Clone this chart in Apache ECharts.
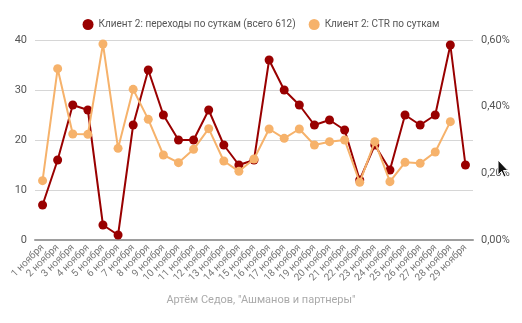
<!DOCTYPE html>
<html>
<head>
<meta charset="utf-8">
<script src="https://cdn.jsdelivr.net/npm/echarts@6/dist/echarts.min.js"></script>
<style>
  html, body { margin: 0; padding: 0; background: #fff; }
  #chart { width: 522px; height: 323px; }
</style>
</head>
<body>
<div id="chart"></div>
<script>
// Days of November
const days = [
  '1 ноября', '2 ноября', '3 ноября', '4 ноября', '5 ноября', '6 ноября', '7 ноября',
  '8 ноября', '9 ноября', '10 ноября', '11 ноября', '12 ноября', '13 ноября', '14 ноября',
  '15 ноября', '16 ноября', '17 ноября', '18 ноября', '19 ноября', '20 ноября', '21 ноября',
  '22 ноября', '23 ноября', '24 ноября', '25 ноября', '26 ноября', '27 ноября', '28 ноября',
  '29 ноября'
];

// Daily clicks (total 612)
const clicks = [7, 16, 27, 26, 3, 1, 23, 34, 25, 20, 20, 26, 19, 15, 16, 36, 30, 27, 23, 24, 22, 12, 19, 14, 25, 23, 25, 39, 15];

// Daily CTR, percent
const ctr = [0.178, 0.514, 0.318, 0.317, 0.588, 0.275, 0.452, 0.362, 0.255, 0.232, 0.272, 0.334, 0.237, 0.206, 0.243,
             0.333, 0.305, 0.333, 0.285, 0.295, 0.300, 0.173, 0.295, 0.175, 0.233, 0.230, 0.264, 0.355, null];

const clicksName = 'Клиент 2: переходы по суткам (всего 612)';
const ctrName = 'Клиент 2: CTR по суткам';

const chart = echarts.init(document.getElementById('chart'));
chart.setOption({
  animation: false,
  textStyle: { fontFamily: 'Roboto, sans-serif' },
  title: {
    text: 'Артём Седов, "Ашманов и партнеры"',
    left: 'center',
    bottom: 12,
    textStyle: { fontSize: 11, fontWeight: 'normal', color: '#aaaaaa' }
  },
  legend: {
    top: 14,
    left: 'center',
    itemGap: 13,
    itemWidth: 11,
    itemHeight: 11,
    icon: 'circle',
    textStyle: { fontSize: 10, color: '#555555' },
    data: [clicksName, ctrName]
  },
  grid: { left: 35, right: 49, top: 40, bottom: 83 },
  xAxis: {
    type: 'category',
    data: days,
    boundaryGap: true,
    axisLine: { lineStyle: { color: '#9e9e9e', width: 2 } },
    axisTick: { show: false },
    axisLabel: { rotate: 45, fontSize: 10, color: '#777777', margin: 6, interval: 0 }
  },
  yAxis: [
    {
      type: 'value',
      min: 0, max: 40, interval: 10,
      axisLine: { show: false },
      axisTick: { show: false },
      axisLabel: { fontSize: 11, color: '#555555', margin: 8 },
      splitLine: { lineStyle: { color: '#d6d6d6', width: 1 } }
    },
    {
      type: 'value',
      min: 0, max: 0.6, interval: 0.2,
      axisLine: { show: false },
      axisTick: { show: false },
      axisLabel: {
        fontSize: 11, color: '#555555', margin: 8,
        formatter: v => v.toFixed(2).replace('.', ',') + '%'
      },
      splitLine: { show: false }
    }
  ],
  series: [
    {
      name: clicksName,
      type: 'line',
      yAxisIndex: 0,
      data: clicks,
      symbol: 'circle',
      symbolSize: 9,
      z: 3,
      itemStyle: { color: '#990000' },
      lineStyle: { color: '#990000', width: 2 }
    },
    {
      name: ctrName,
      type: 'line',
      yAxisIndex: 1,
      data: ctr,
      symbol: 'circle',
      symbolSize: 9,
      z: 4,
      itemStyle: { color: '#f6b26b' },
      lineStyle: { color: '#f6b26b', width: 2 }
    }
  ],
  graphic: [
    {
      // mouse pointer
      type: 'polygon',
      shape: { points: [[498, 160], [498, 175], [501.5, 171.5], [504, 177], [506, 176], [503.5, 170.5], [508, 170.5]] },
      style: { fill: '#111111', stroke: '#ffffff', lineWidth: 1 },
      z: 100
    }
  ]
});
</script>
</body>
</html>
